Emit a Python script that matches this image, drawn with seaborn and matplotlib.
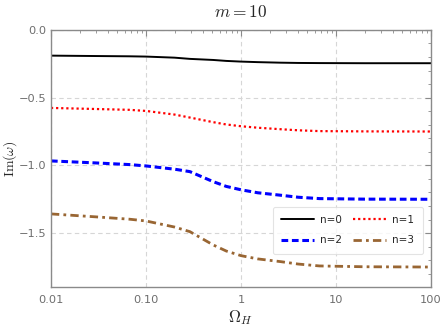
import numpy as np
import pandas as pd
import matplotlib
matplotlib.use("Agg")
import matplotlib.pyplot as plt
import matplotlib.ticker as mticker
import seaborn as sns

# data (Omega_H on log axis)
omega = [0.01, 0.03, 0.067, 0.1, 0.2, 0.29, 0.51, 0.7, 1.0, 1.5, 2.6, 4.0, 6.7, 20.0, 100.0]
im_n0 = [-0.190, -0.193, -0.195, -0.197, -0.205, -0.214, -0.222, -0.229, -0.234, -0.238, -0.242, -0.244, -0.245, -0.246, -0.246]
im_n1 = [-0.576, -0.584, -0.590, -0.598, -0.625, -0.647, -0.681, -0.698, -0.711, -0.722, -0.733, -0.741, -0.747, -0.749, -0.750]
im_n2 = [-0.967, -0.982, -0.994, -1.004, -1.028, -1.046, -1.120, -1.155, -1.180, -1.202, -1.220, -1.235, -1.245, -1.249, -1.250]
im_n3 = [-1.358, -1.380, -1.397, -1.410, -1.455, -1.489, -1.587, -1.632, -1.666, -1.690, -1.710, -1.728, -1.742, -1.748, -1.750]
labels = ["n=0", "n=1", "n=2", "n=3"]
colors = ["black", "red", "blue", (0.6, 0.4, 0.2)]
styles = ["-", (0, (1, 1.3)), (0, (2.2, 1.2)), (0, (3, 1.5, 1, 1.5))]
widths = [1.4, 1.6, 2.2, 2.0]

df = pd.DataFrame({"omega": omega, "n=0": im_n0, "n=1": im_n1, "n=2": im_n2, "n=3": im_n3})

sns.set_style("white")
plt.rcParams["mathtext.fontset"] = "cm"

fig = plt.figure(figsize=(4.43, 3.32), dpi=100)
ax = fig.add_axes([0.115, 0.1365, 0.858, 0.7735])

for lab, c, ls, lw in zip(labels, colors, styles, widths):
    sns.lineplot(data=df, x="omega", y=lab, ax=ax, color=c, linestyle=ls, lw=lw, label=lab)

ax.set_xscale("log")
ax.set_xlim(0.01, 100)
ax.set_ylim(-1.895, 0)

ax.xaxis.set_major_locator(mticker.FixedLocator([0.01, 0.1, 1, 10, 100]))
ax.xaxis.set_major_formatter(mticker.FixedFormatter(["0.01", "0.10", "1", "10", "100"]))
ax.xaxis.set_minor_locator(mticker.LogLocator(base=10, subs=np.arange(2, 10)))
ax.xaxis.set_minor_formatter(mticker.NullFormatter())
ax.yaxis.set_major_locator(mticker.FixedLocator([0.0, -0.5, -1.0, -1.5]))
ax.yaxis.set_major_formatter(mticker.FixedFormatter(["0.0", "\u22120.5", "\u22121.0", "\u22121.5"]))
ax.yaxis.set_minor_locator(mticker.MultipleLocator(0.1))

gray = "#8a8a8a"
ax.tick_params(which="both", direction="in", top=True, right=True, colors=gray, labelsize=8.2, labelcolor="#6e6e6e")
ax.tick_params(which="major", length=4, width=0.8, pad=3)
ax.tick_params(which="minor", length=2, width=0.6)
ax.tick_params(axis="x", which="major", pad=6)
for sp in ax.spines.values():
    sp.set_color(gray)
    sp.set_linewidth(1.0)

ax.grid(True, which="major", color="#d6d6d6", linestyle=(0, (4, 3)), linewidth=0.8)

ax.set_title(r"$m=10$", fontsize=12.5, pad=9)
ax.set_xlabel(r"$\Omega_H$", fontsize=12, labelpad=2)
ax.set_ylabel(r"$\mathrm{Im}(\omega)$", fontsize=10)
ax.yaxis.set_label_coords(-0.083, 0.5)

# legend in rows: n=0 n=1 / n=2 n=3
h, l = ax.get_legend_handles_labels()
order = [0, 2, 1, 3]
leg = ax.legend([h[i] for i in order], [l[i] for i in order], loc="lower right",
                bbox_to_anchor=(0.992, 0.108), ncol=2, fontsize=7.5,
                frameon=True, handlelength=3.2, columnspacing=1.0, handletextpad=0.6,
                borderpad=0.8, labelspacing=1.0)
leg.get_frame().set_edgecolor("#dddddd")
leg.get_frame().set_linewidth(0.8)

fig.savefig("out.png", dpi=100)
